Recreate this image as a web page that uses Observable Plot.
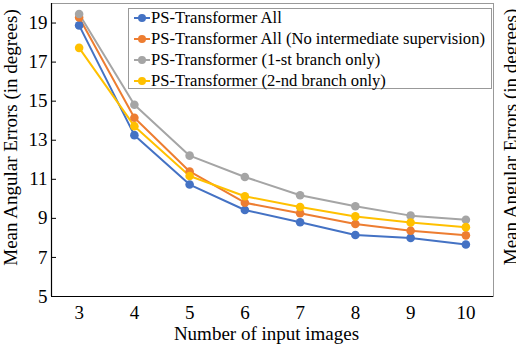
<!DOCTYPE html>
<html><head><meta charset="utf-8">
<script src="https://cdn.jsdelivr.net/npm/d3@7"></script>
<script src="https://cdn.jsdelivr.net/npm/@observablehq/plot@0.6"></script>
<style>
body{margin:0;background:#fff;}
#wrap{position:relative;width:516px;height:346px;overflow:hidden;font-family:"Liberation Serif","Times New Roman",serif;}
#chart svg, #chart svg text{font-family:"Liberation Serif","Times New Roman",serif !important;}
#legend{position:absolute;left:128px;top:8px;width:364px;height:81px;border:1px solid #999;background:#fff;box-sizing:border-box;}
.row{position:absolute;left:0;height:20px;display:flex;align-items:center;font-size:16.6px;color:#000;white-space:nowrap;}
.row svg{margin-left:5px;margin-right:1px;}
</style></head>
<body><div id="wrap"><div id="chart"></div><div id="legend"></div></div>
<script>
const nImages = [3, 4, 5, 6, 7, 8, 9, 10];
const seriesNames = [
  "PS-Transformer All",
  "PS-Transformer All (No intermediate supervision)",
  "PS-Transformer (1-st branch only)",
  "PS-Transformer (2-nd branch only)"
];
const psAll        = [18.88, 13.26, 10.73, 9.43, 8.80, 8.15, 8.00, 7.66];
const psNoInter    = [19.28, 14.15, 11.40, 9.80, 9.26, 8.71, 8.37, 8.13];
const psBranch1    = [19.46, 14.82, 12.21, 11.12, 10.18, 9.62, 9.14, 8.93];
const psBranch2    = [17.73, 13.72, 11.17, 10.13, 9.58, 9.10, 8.79, 8.55];
const colors = ["#4472C4", "#ED7D31", "#A5A5A5", "#FFC000"];
const yTicks = [5, 7, 9, 11, 13, 15, 17, 19];
const yTitle = "Mean Angular Errors (in degrees)";
const xTitle = "Number of input images";

const allSeries = [psAll, psNoInter, psBranch1, psBranch2];
const data = [];
allSeries.forEach((vals, s) => vals.forEach((v, i) => data.push({series: seriesNames[s], n: nImages[i], v})));

const chart = Plot.plot({
  width: 516, height: 346,
  marginLeft: 51, marginRight: 23, marginTop: 3, marginBottom: 50,
  style: {background: "#fff", overflow: "visible"},
  x: {type: "linear", domain: [2.5, 10.5]},
  y: {domain: [5, 20]},
  color: {domain: seriesNames, range: colors},
  marks: [
    Plot.frame({stroke: "#999", strokeWidth: 1}),
    Plot.axisY(yTicks, {tickSize: 0, tickPadding: 4, fontSize: 19, fill: "#000", label: null}),
    Plot.axisY(yTicks, {tickSize: -5, tickFormat: () => "", stroke: "#000", label: null}),
    Plot.axisX(nImages, {tickSize: 0, tickPadding: 9, fontSize: 19, fill: "#000", label: null}),
    Plot.ruleX([2.5], {stroke: "#000", strokeWidth: 1.2}),
    Plot.ruleY([5], {stroke: "#000", strokeWidth: 1.2}),
    Plot.line(data, {x: "n", y: "v", z: "series", stroke: "series", strokeWidth: 2}),
    Plot.dot(data, {x: "n", y: "v", fill: "series", r: 4.3}),
    Plot.text([yTitle], {frameAnchor: "left", textAnchor: "middle", lineAnchor: "middle", dx: -41, dy: -12.5, rotate: -90, fontSize: 19, fill: "#000"}),
    Plot.text([yTitle], {frameAnchor: "right", textAnchor: "middle", lineAnchor: "middle", dx: 17, dy: -13, rotate: -90, fontSize: 19, fill: "#000"}),
    Plot.text([xTitle], {frameAnchor: "bottom", textAnchor: "middle", lineAnchor: "middle", dx: -6, dy: 37, fontSize: 19, fill: "#000"})
  ]
});
document.getElementById("chart").appendChild(chart);

const legend = document.getElementById("legend");
seriesNames.forEach((name, i) => {
  const row = document.createElement("div");
  row.className = "row";
  row.style.top = (-1.3 + i * 21.1) + "px";
  row.innerHTML = `<svg width="16" height="10"><line x1="0" x2="16" y1="5" y2="5" stroke="${colors[i]}" stroke-width="2"/><circle cx="8" cy="5" r="4" fill="${colors[i]}"/></svg><span>${name}</span>`;
  legend.appendChild(row);
});
</script></body></html>
